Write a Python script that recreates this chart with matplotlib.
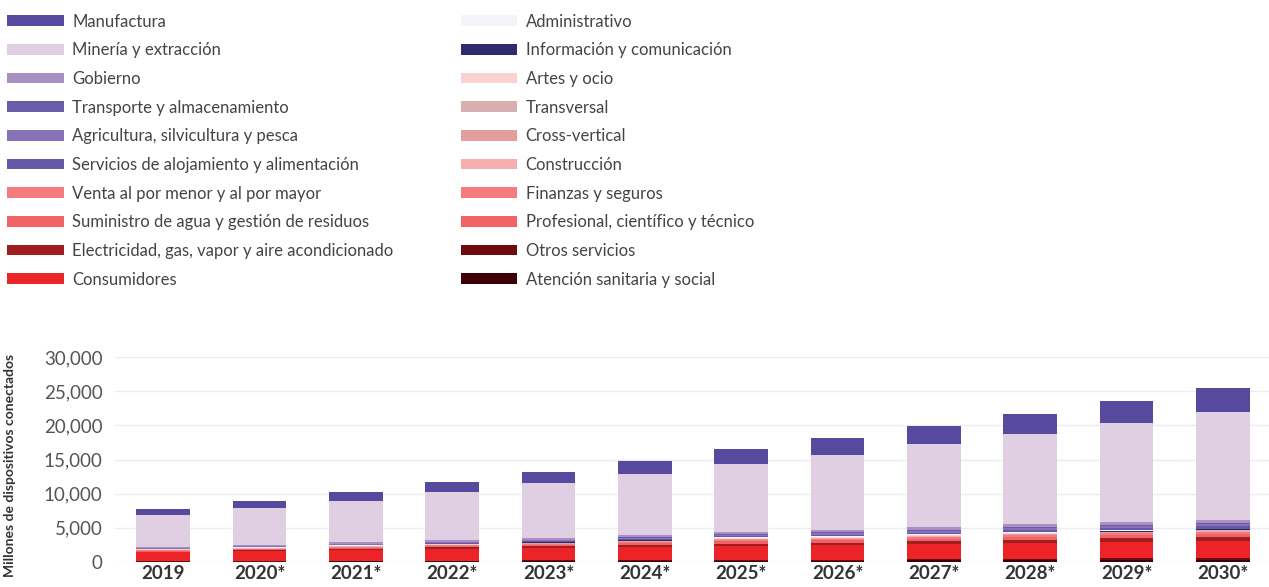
import numpy as np
import matplotlib.pyplot as plt
from matplotlib.patches import Patch

plt.rcParams['font.family'] = ['Lato', 'DejaVu Sans']

#------------------------------------------------------------------------
# Datos (millones de dispositivos)
years = ['2019', '2020*', '2021*', '2022*', '2023*', '2024*',
         '2025*', '2026*', '2027*', '2028*', '2029*', '2030*']

atencion      = [50, 60, 80, 100, 120, 140, 170, 200, 230, 270, 310, 350]
otros         = [50, 60, 70, 80, 100, 110, 130, 150, 170, 190, 220, 250]
consumidores  = [1300, 1450, 1600, 1750, 1850, 1950, 2050, 2100, 2200, 2250, 2350, 2400]
electricidad  = [100, 130, 170, 200, 250, 300, 350, 400, 480, 550, 620, 700]
profesional   = [80, 90, 100, 110, 110, 140, 180, 190, 200, 220, 230, 240]
suministro    = [50, 60, 70, 70, 80, 90, 120, 120, 130, 150, 150, 160]
finanzas      = [50, 60, 70, 70, 70, 90, 110, 120, 130, 140, 150, 150]
venta         = [50, 60, 70, 70, 80, 90, 110, 120, 130, 140, 150, 150]
construccion  = [30, 30, 40, 40, 40, 50, 70, 70, 80, 80, 90, 90]
crossvert     = [30, 30, 40, 40, 40, 50, 60, 70, 70, 80, 80, 80]
transversal   = [20, 20, 20, 20, 30, 40, 40, 40, 50, 50, 50, 50]
artes         = [20, 20, 20, 30, 30, 40, 50, 50, 50, 60, 60, 60]
informacion   = [30, 40, 50, 50, 60, 70, 90, 100, 100, 110, 120, 130]
administrativo = [20, 20, 30, 40, 30, 40, 60, 70, 70, 90, 90, 90]
servicios     = [60, 70, 90, 100, 120, 140, 170, 190, 220, 250, 270, 300]
agricultura   = [80, 90, 110, 130, 150, 180, 200, 230, 260, 290, 320, 330]
transporte    = [50, 60, 70, 80, 90, 100, 120, 130, 150, 160, 180, 200]
gobierno      = [130, 150, 200, 220, 250, 280, 320, 350, 380, 420, 460, 470]
mineria       = [4700, 5400, 6000, 7000, 8000, 9000, 9900, 11000, 12200, 13300, 14500, 15800]
manufactura   = [900, 1000, 1300, 1500, 1700, 1900, 2200, 2500, 2600, 2900, 3200, 3500]

# orden de apilado (de abajo hacia arriba)
series = [
    ('Atención sanitaria y social', atencion, '#3d0008'),
    ('Otros servicios', otros, '#6e0b0e'),
    ('Consumidores', consumidores, '#ed2427'),
    ('Electricidad, gas, vapor y aire acondicionado', electricidad, '#a01d20'),
    ('Profesional, científico y técnico', profesional, '#f06466'),
    ('Suministro de agua y gestión de residuos', suministro, '#f06466'),
    ('Finanzas y seguros', finanzas, '#f37b7e'),
    ('Venta al por menor y al por mayor', venta, '#f37b7e'),
    ('Construcción', construccion, '#f6adad'),
    ('Cross-vertical', crossvert, '#e39d9d'),
    ('Transversal', transversal, '#d8aeae'),
    ('Artes y ocio', artes, '#f9d2d2'),
    ('Información y comunicación', informacion, '#2e2a6b'),
    ('Administrativo', administrativo, '#f5f4fa'),
    ('Servicios de alojamiento y alimentación', servicios, '#6658a8'),
    ('Agricultura, silvicultura y pesca', agricultura, '#8673b5'),
    ('Transporte y almacenamiento', transporte, '#6a5ca8'),
    ('Gobierno', gobierno, '#a98fc4'),
    ('Minería y extracción', mineria, '#e0cfe3'),
    ('Manufactura', manufactura, '#574a9e'),
]
colors = {name: c for name, vals, c in series}

legend_left = ['Manufactura', 'Minería y extracción', 'Gobierno',
               'Transporte y almacenamiento', 'Agricultura, silvicultura y pesca',
               'Servicios de alojamiento y alimentación',
               'Venta al por menor y al por mayor',
               'Suministro de agua y gestión de residuos',
               'Electricidad, gas, vapor y aire acondicionado', 'Consumidores']
legend_right = ['Administrativo', 'Información y comunicación', 'Artes y ocio',
                'Transversal', 'Cross-vertical', 'Construcción',
                'Finanzas y seguros', 'Profesional, científico y técnico',
                'Otros servicios', 'Atención sanitaria y social']

#------------------------------------------------------------------------
fig = plt.figure(figsize=(12.69, 5.87), dpi=100)
ax = fig.add_axes([0.0906, 0.0426, 0.911, 0.3492])

x = np.arange(len(years))
bottom = np.zeros(len(years))
for name, vals, c in series:
    ax.bar(x, vals, 0.56, bottom=bottom, color=c, linewidth=0, zorder=3)
    bottom += np.array(vals)

ax.set_xlim(-0.5, len(years) - 0.5)
ax.set_ylim(0, 30000)
ax.set_yticks(range(0, 30001, 5000))
ax.set_yticklabels([f'{v:,}' for v in range(0, 30001, 5000)],
                   fontsize=13.5, color='#555555')
ax.set_xticks(x)
ax.set_xticklabels(years, fontsize=13.5, fontweight='bold', color='#333333')
ax.tick_params(length=0)
ax.tick_params(axis='y', pad=9)
ax.tick_params(axis='x', pad=2)
ax.grid(axis='y', color='#ebebf3', linewidth=1, zorder=0)
for s in ax.spines.values():
    s.set_visible(False)
ax.set_ylabel('Millones de dispositivos conectados', fontsize=10,
              fontweight='bold', color='#333333')
ax.yaxis.set_label_coords(-0.086, 0.47)

def make_legend(names, xpos):
    handles = [Patch(facecolor=colors[n], edgecolor='none') for n in names]
    leg = fig.legend(handles, names, loc='upper left', bbox_to_anchor=(xpos, 0.991),
                     frameon=False, fontsize=12, handlelength=3.4,
                     handleheight=0.6, handletextpad=0.5, labelspacing=0.76,
                     borderaxespad=0.3, borderpad=0.2)
    for t in leg.get_texts():
        t.set_color('#444444')
    return leg

make_legend(legend_left, -0.001)
make_legend(legend_right, 0.3565)

fig.savefig('out.png', dpi=100)
